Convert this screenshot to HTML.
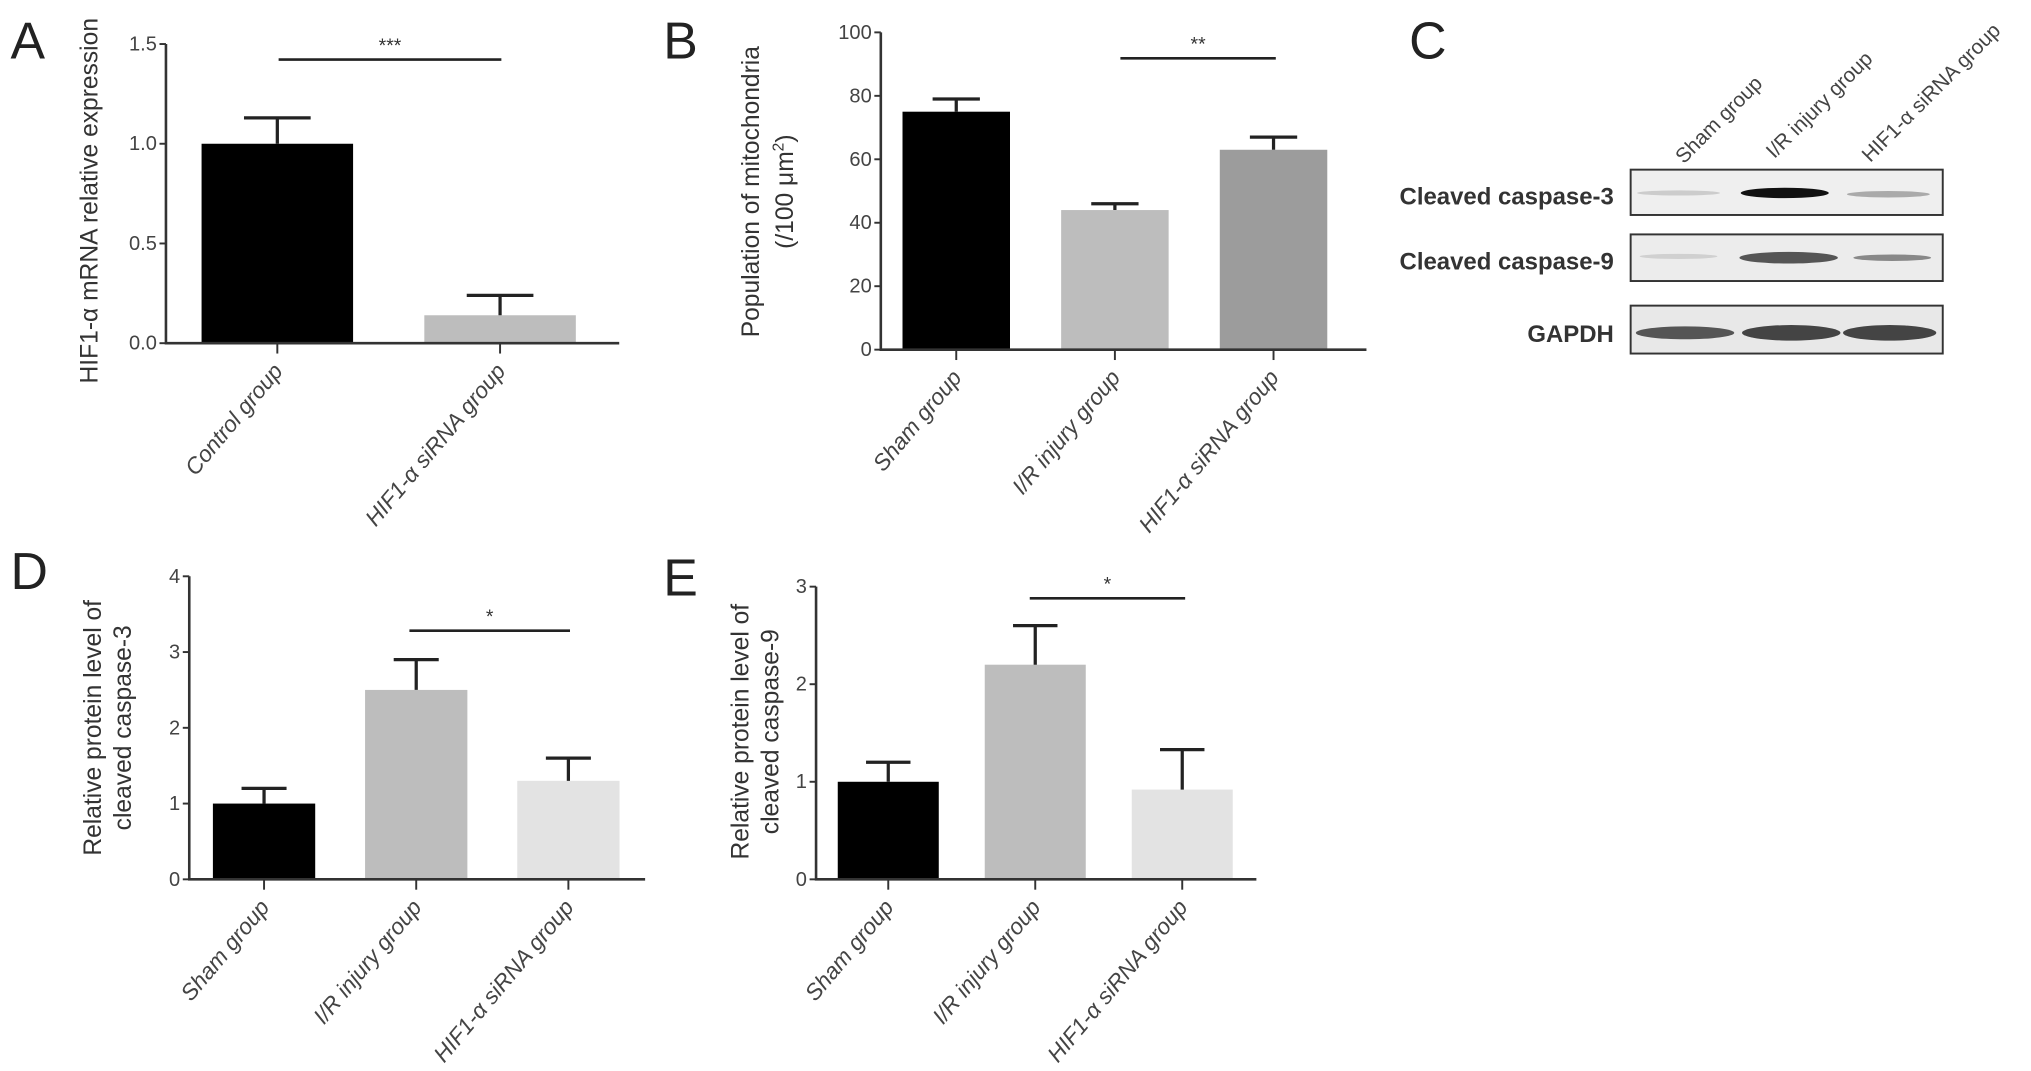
<!DOCTYPE html>
<html><head><meta charset="utf-8"><style>
html,body{margin:0;padding:0;background:#fff;}
svg{display:block;}
text{font-family:"Liberation Sans",sans-serif;}
.tick{fill:#444;font-size:15.5px;}
.xl{fill:#444;font-size:17.5px;font-style:italic;}
.yt{fill:#333;font-size:19px;}
.pl{fill:#222;font-size:40px;}
</style></head><body>
<svg id="fig" width="2031" height="1071" viewBox="0 0 1568 827" xmlns="http://www.w3.org/2000/svg">
<text class="pl" x="8" y="45">A</text>
<text class="pl" x="512" y="45">B</text>
<text class="pl" x="1088" y="45">C</text>
<text class="pl" x="8" y="455">D</text>
<text class="pl" x="512" y="460">E</text>

<text class="yt" transform="translate(75,155) rotate(-90)" text-anchor="middle">HIF1-α mRNA relative expression</text>
<text class="yt" transform="translate(586,148) rotate(-90)" text-anchor="middle">Population of mitochondria</text>
<text class="yt" transform="translate(612,148) rotate(-90)" text-anchor="middle">(/100 μm<tspan dy="-7" font-size="12">2</tspan><tspan dy="7">)</tspan></text>
<text class="yt" transform="translate(78,562) rotate(-90)" text-anchor="middle">Relative protein level of</text>
<text class="yt" transform="translate(101,562) rotate(-90)" text-anchor="middle">cleaved caspase-3</text>
<text class="yt" transform="translate(578,565) rotate(-90)" text-anchor="middle">Relative protein level of</text>
<text class="yt" transform="translate(601,565) rotate(-90)" text-anchor="middle">cleaved caspase-9</text>

<g>
<text x="1246" y="158" text-anchor="end" font-size="18.5" font-weight="bold" fill="#333">Cleaved caspase-3</text>
<text x="1246" y="208" text-anchor="end" font-size="18.5" font-weight="bold" fill="#333">Cleaved caspase-9</text>
<text x="1246" y="264" text-anchor="end" font-size="18.5" font-weight="bold" fill="#333">GAPDH</text>
<rect x="1259" y="131" width="241" height="35" fill="#efefef" stroke="#333" stroke-width="1.5"/>
<rect x="1259" y="181" width="241" height="36" fill="#ececec" stroke="#333" stroke-width="1.5"/>
<rect x="1259" y="236" width="241" height="37" fill="#e8e8e8" stroke="#333" stroke-width="1.5"/>
<ellipse cx="1296" cy="149" rx="32" ry="2" fill="#ccc"/>
<ellipse cx="1378" cy="149" rx="34" ry="4" fill="#111"/>
<ellipse cx="1458" cy="150" rx="32" ry="2.5" fill="#aaa"/>
<ellipse cx="1296" cy="198" rx="30" ry="2" fill="#d0d0d0"/>
<ellipse cx="1381" cy="199" rx="38" ry="4.5" fill="#555"/>
<ellipse cx="1461" cy="199" rx="30" ry="2.5" fill="#888"/>
<ellipse cx="1301" cy="257" rx="38" ry="5" fill="#555"/>
<ellipse cx="1383" cy="257" rx="38" ry="6" fill="#444"/>
<ellipse cx="1459" cy="257" rx="36" ry="6" fill="#444"/>
<text transform="translate(1300,127) rotate(-45)" font-size="16" fill="#444">Sham group</text>
<text transform="translate(1370,123) rotate(-45)" font-size="16" fill="#444">I/R injury group</text>
<text transform="translate(1444,126) rotate(-45)" font-size="16" fill="#444">HIF1-α siRNA group</text>
</g>
</svg>
<script>
const catA = ["Control group", "HIF1-α siRNA group"];
const valA = [1.0, 0.14];
const errA = [1.13, 0.24];
const ticksA = ["0.0", "0.5", "1.0", "1.5"];
const catB = ["Sham group", "I/R injury group", "HIF1-α siRNA group"];
const valB = [75, 44, 63];
const errB = [79, 46, 67];
const ticksB = ["0", "20", "40", "60", "80", "100"];
const valD = [1.0, 2.5, 1.3];
const errD = [1.2, 2.9, 1.6];
const ticksD = ["0", "1", "2", "3", "4"];
const valE = [1.0, 2.2, 0.92];
const errE = [1.2, 2.6, 1.33];
const ticksE = ["0", "1", "2", "3"];

const NS = "http://www.w3.org/2000/svg";
const svg = document.getElementById("fig");
function mk(tag, attrs, parent) {
  const e = document.createElementNS(NS, tag);
  for (const k in attrs) e.setAttribute(k, attrs[k]);
  (parent || svg).appendChild(e);
  return e;
}
function chart(c) {
  const g = mk("g", {});
  
  
  const maxV = parseFloat(c.ticks[c.ticks.length - 1]);
  const y = v => c.y0 - (v / maxV) * (c.y0 - c.yTop);
  const xc = i => c.ax + c.pad + (i + 0.5) * c.step;
  c.vals.forEach((v, i) => {
    const cx = xc(i);
    const r = mk("rect", {x: cx - c.bw / 2, y: y(v), width: c.bw, height: c.y0 - y(v), fill: c.colors[i]}, g);
    
    
    const e = mk("path", {d: `M${cx},${y(v)}V${y(c.errs[i])}M${cx - c.bw * 0.22},${y(c.errs[i])}H${cx + c.bw * 0.22}`, stroke: "#222", "stroke-width": 2.5, fill: "none"}, g);
    
    
    mk("line", {x1: cx, y1: c.y0, x2: cx, y2: c.y0 + 8, stroke: "#333", "stroke-width": 1.5}, g);
    const t = mk("text", {class: "xl", "text-anchor": "end", transform: `translate(${cx + 5},${c.y0 + 22}) rotate(-50)`}, g);
    t.textContent = c.cats[i];
    
    
  });
  const ax = mk("path", {d: `M${c.ax},${c.yTop}V${c.y0}H${c.xEnd}`, stroke: "#333", "stroke-width": 2, fill: "none"}, g);
  
  
  c.ticks.forEach(tk => {
    const ty = y(parseFloat(tk));
    mk("line", {x1: c.ax - 5, y1: ty, x2: c.ax, y2: ty, stroke: "#333", "stroke-width": 1.5}, g);
    const t = mk("text", {class: "tick", x: c.ax - 7, y: ty + 5, "text-anchor": "end"}, g);
    t.textContent = tk;
    
    
  });
  const s = mk("line", {x1: c.sig[0], x2: c.sig[1], y1: c.sig[2], y2: c.sig[2], stroke: "#222", "stroke-width": 2}, g);
  
  
  const st = mk("text", {x: (c.sig[0] + c.sig[1]) / 2, y: c.sig[2] - 6, "text-anchor": "middle", "font-size": 15, fill: "#333"}, g);
  st.textContent = c.star;
  
  
}
chart({id: "a", cats: catA, vals: valA, errs: errA, ticks: ticksA, ax: 128, xEnd: 478, y0: 265, yTop: 34, pad: 0, step: 172, bw: 117, colors: ["#000", "#bdbdbd"], sig: [215, 387, 46], star: "***"});
chart({id: "b", cats: catB, vals: valB, errs: errB, ticks: ticksB, ax: 680, xEnd: 1055, y0: 270, yTop: 25, pad: -3, step: 122.5, bw: 83, colors: ["#000", "#bdbdbd", "#9c9c9c"], sig: [865, 985, 45], star: "**"});
chart({id: "d", cats: catB, vals: valD, errs: errD, ticks: ticksD, ax: 146, xEnd: 498, y0: 679, yTop: 445, pad: -1, step: 117.5, bw: 79, colors: ["#000", "#bdbdbd", "#e3e3e3"], sig: [316, 440, 487], star: "*"});
chart({id: "e", cats: catB, vals: valE, errs: errE, ticks: ticksE, ax: 630, xEnd: 970, y0: 679, yTop: 453, pad: -1, step: 113.5, bw: 78, colors: ["#000", "#bdbdbd", "#e3e3e3"], sig: [795, 915, 462], star: "*"});
</script>
</body></html>
